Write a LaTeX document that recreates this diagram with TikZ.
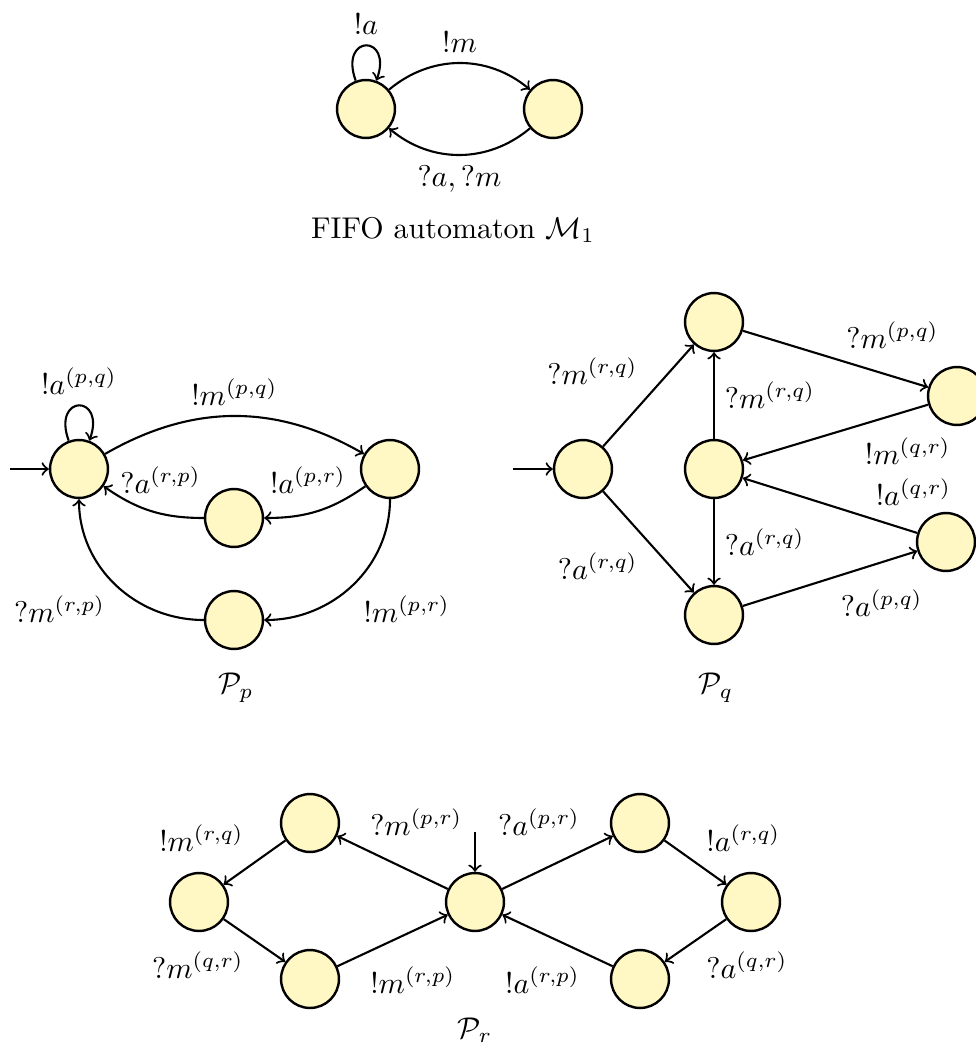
\documentclass[tikz,border=0pt]{standalone}
\usetikzlibrary{positioning}
\definecolor{statefill}{RGB}{255,248,196}

\begin{document}
\begin{tikzpicture}[
  x=0.3333pt, y=-0.3333pt,
  state/.style={circle, draw, line width=0.8pt, fill=statefill, minimum size=19.3pt, inner sep=0pt},
  arr/.style={->, line width=0.7pt},
  lbl/.style={inner sep=3.3pt},
  every loop/.style={looseness=6.2, min distance=3mm},
  selfloop/.style={out=110, in=70, loop}
]
\useasboundingbox (0,0) rectangle (976,1048);

% FIFO automaton M_1
\node[state] (m0) at (366,109) {};
\node[state] (m1) at (553,109) {};
\node (mtitle) at (453,230) {FIFO automaton $\mathcal{M}_1$};

\draw[arr] (m0) to[selfloop] node[lbl, above] {$!a$} (m0);
\draw[arr] (m0) to[bend left=40] node[lbl, above] {$!m$} (m1);
\draw[arr] (m1) to[bend left=40] node[lbl, below] {$?a, ?m$} (m0);

% peer p
\node[state] (p0) at (79,469) {};
\node[state] (p1) at (390,469) {};
\node[state] (p2) at (234,518) {};
\node[state] (p3) at (234,620) {};
\coordinate (p0in) at (10,469);
\node (ptitle) at (236,688) {$\mathcal{P}_p$};

\draw[arr] (p0in) -- (p0);
\draw[arr] (p0) to[selfloop] node[lbl, above] {$!a^{(p,q)}$} (p0);
\draw[arr] (p0) to[bend left=30] node[lbl, above] {$!m^{(p,q)}$} (p1);
\draw[arr] (p1) to[out=-145, in=0] node[lbl, above=3pt, pos=.6] {$!a^{(p,r)}$} (p2);
\draw[arr] (p2) to[out=180, in=-35] node[lbl, above=3pt, pos=.4] {$?a^{(r,p)}$} (p0);
\draw[arr] (p1) to[out=-90, in=0] node[lbl, below right] {$!m^{(p,r)}$} (p3);
\draw[arr] (p3) to[out=180, in=-90] node[lbl, below left] {$?m^{(r,p)}$} (p0);

% peer q
\node[state] (q0) at (583,469) {};
\node[state] (q1) at (714,322) {};
\node[state] (q2) at (714,469) {};
\node[state] (q3) at (714,615) {};
\node[state] (q4) at (957,396) {};
\node[state] (q5) at (946,542) {};
\coordinate (q0in) at (513,469);
\node (qtitle) at (716,688) {$\mathcal{P}_q$};

\draw[arr] (q0in) -- (q0);
\draw[arr] (q0) -- node[lbl, above left] {$?m^{(r,q)}$} (q1);
\draw[arr] (q0) -- node[lbl, below left] {$?a^{(r,q)}$} (q3);
\draw[arr] (q2) -- node[lbl, right] {$?m^{(r,q)}$} (q1);
\draw[arr] (q2) -- node[lbl, right] {$?a^{(r,q)}$} (q3);
\draw[arr] (q1) -- node[lbl, above right] {$?m^{(p,q)}$} (q4);
\draw[arr] (q4) -- node[lbl, below right, pos=.4] {$!m^{(q,r)}$} (q2);
\draw[arr] (q5) -- node[lbl, above right, pos=.3] {$!a^{(q,r)}$} (q2);
\draw[arr] (q3) -- node[lbl, below right] {$?a^{(p,q)}$} (q5);

% peer r
\node[state] (r0) at (475,902) {};
\node[state] (r1) at (310,823) {};
\node[state] (r2) at (199,902) {};
\node[state] (r3) at (310,979) {};
\node[state] (r4) at (640,823) {};
\node[state] (r5) at (751,902) {};
\node[state] (r6) at (640,979) {};
\coordinate (r0in) at (475,832);
\node (rtitle) at (475,1030) {$\mathcal{P}_r$};

\draw[arr] (r0in) -- (r0);
\draw[arr] (r0) -- node[lbl, above right, pos=.8] {$?m^{(p,r)}$} (r1);
\draw[arr] (r1) -- node[lbl, above left] {$!m^{(r,q)}$} (r2);
\draw[arr] (r2) -- node[lbl, below left] {$?m^{(q,r)}$} (r3);
\draw[arr] (r3) -- node[lbl, below right, pos=.2] {$!m^{(r,p)}$} (r0);
\draw[arr] (r0) -- node[lbl, above left, pos=.8] {$?a^{(p,r)}$} (r4);
\draw[arr] (r4) -- node[lbl, above right] {$!a^{(r,q)}$} (r5);
\draw[arr] (r5) -- node[lbl, below right] {$?a^{(q,r)}$} (r6);
\draw[arr] (r6) -- node[lbl, below left, pos=.2] {$!a^{(r,p)}$} (r0);

\end{tikzpicture}
\end{document}
